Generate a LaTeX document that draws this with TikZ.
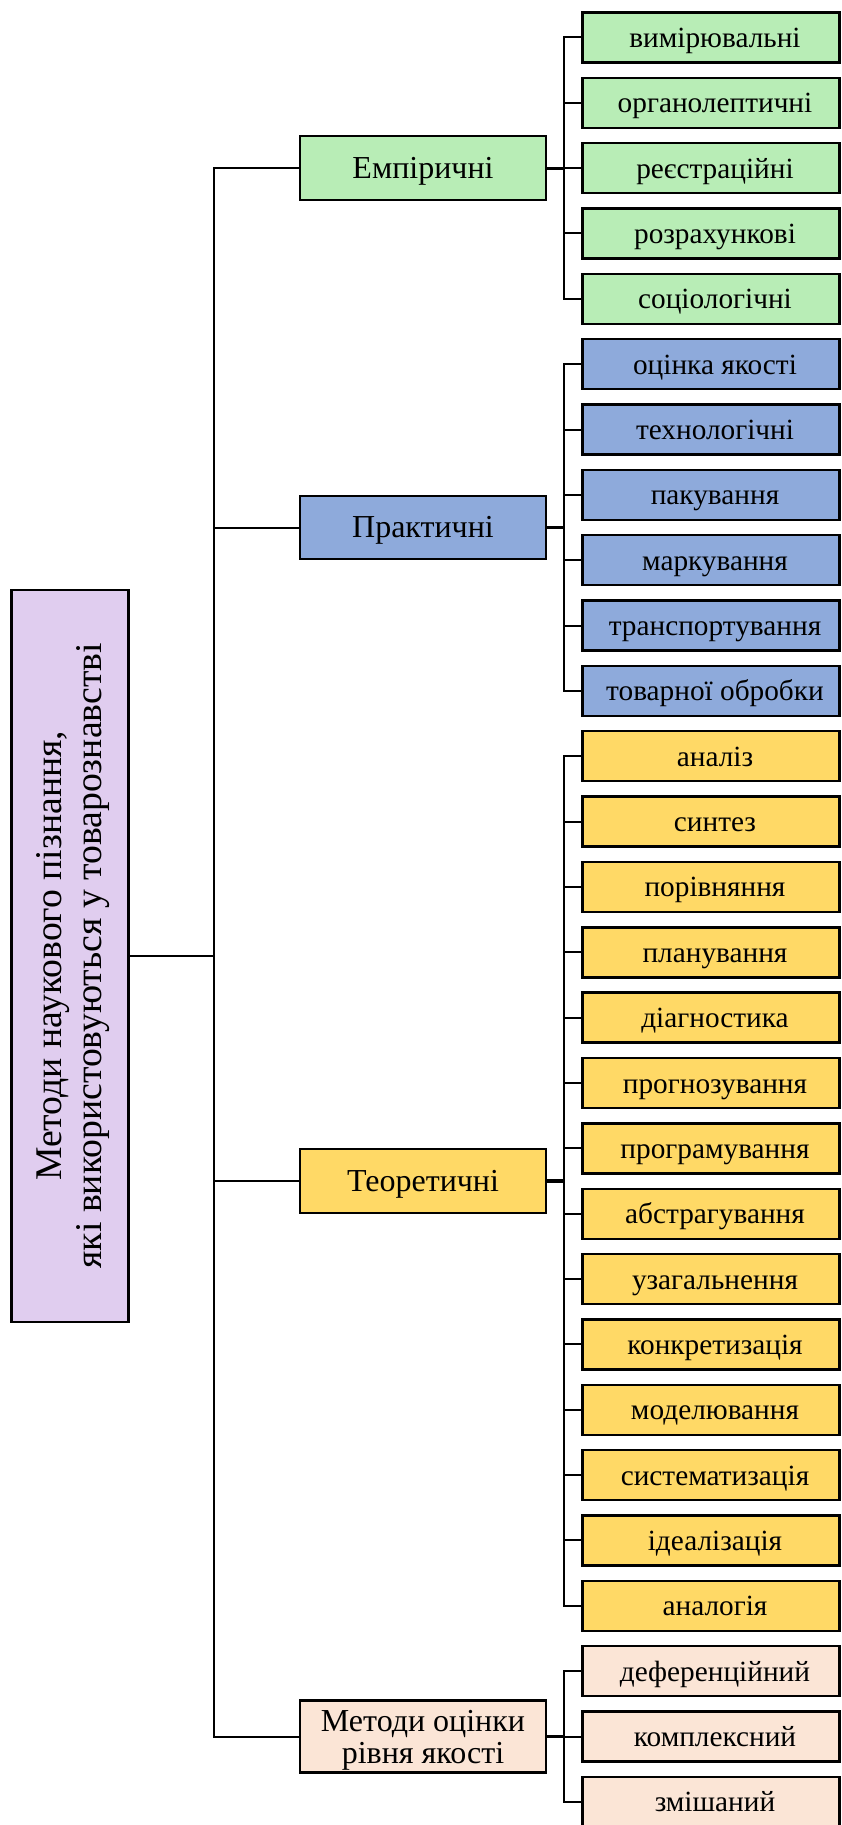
\documentclass[tikz,border=0pt]{standalone}
\usepackage{fontspec}
\setmainfont{Liberation Serif}
\definecolor{empfill}{HTML}{B8EDB6}
\definecolor{prkfill}{HTML}{8EAADB}
\definecolor{teofill}{HTML}{FFD966}
\definecolor{metfill}{HTML}{FBE5D6}
\definecolor{rootfill}{HTML}{E0CDEF}
\begin{document}
\begin{tikzpicture}[x=1pt,y=-1pt,
  box/.style={draw=black, line width=2.4pt, inner sep=0pt, align=center, text=black},
  leaf/.style={box, minimum width=257pt, minimum height=50pt, text height=27pt, text depth=7pt,
    font=\fontsize{29.3}{33}\selectfont},
  cat/.style={box, minimum width=246pt, font=\fontsize{32}{32}\selectfont},
  catlabel/.style={text height=26.5pt, text depth=6.5pt},
  link/.style={line width=2pt},
  stem/.style={line width=3.2pt}]
\useasboundingbox (0,0) rectangle (841,1825);

% root box with vertical caption
\node[box, fill=rootfill, minimum width=117pt, minimum height=732pt] (root) at (70,955.8) {};
\node[rotate=90, align=center, inner sep=0pt, font=\fontsize{37.7}{40}\selectfont] (roottext) at (73,955.8)
  {Методи наукового пізнання,\\які використовуються у товарознавстві};

% method groups
\node[cat, catlabel, fill=empfill, minimum height=64pt] (emp) at (423,168.1) {Емпіричні};
\node[cat, catlabel, fill=prkfill, minimum height=63pt] (prk) at (423,527.5) {Практичні};
\node[cat, catlabel, fill=teofill, minimum height=64pt] (teo) at (423,1181.0) {Теоретичні};
\node[cat, fill=metfill, minimum height=72pt] (met) at (423,1736.5) {};
\node[align=center, inner sep=0pt, font=\fontsize{32}{32}\selectfont, yshift=-4pt] (metlabel) at (met.center)
  {Методи оцінки\\рівня якості};

% individual methods
\foreach \t [count=\i from 0] in {вимірювальні,органолептичні,реєстраційні,розрахункові,соціологічні}
  \node[leaf, fill=empfill] (e\i) at (711,37.4+65.35*\i) {\hspace*{8pt}\t};
\foreach \t [count=\i from 0] in {оцінка якості,технологічні,пакування,маркування,транспортування,товарної обробки}
  \node[leaf, fill=prkfill] (p\i) at (711,37.4+65.35*\i+65.35*5) {\hspace*{8pt}\t};
\foreach \t [count=\i from 0] in {аналіз,синтез,порівняння,планування,діагностика,прогнозування,програмування,абстрагування,узагальнення,конкретизація,моделювання,систематизація,ідеалізація,аналогія}
  \node[leaf, fill=teofill] (t\i) at (711,37.4+65.35*\i+65.35*11) {\hspace*{8pt}\t};
\foreach \t [count=\i from 0] in {деференційний,комплексний,змішаний}
  \node[leaf, fill=metfill] (m\i) at (711,37.4+65.35*\i+65.35*25) {\hspace*{8pt}\t};

% trunk
\coordinate (tr) at (213.5,955.8);
\draw[link] (emp.west) -- (tr |- emp.west) -- (tr |- met.west) -- (met.west);
\draw[link] (tr |- prk.west) -- (prk.west);
\draw[link] (tr |- teo.west) -- (teo.west);
\draw[link] (root.east) -- (tr);

% brackets
\coordinate (bx) at (563.5,0);
\draw[stem] (emp.east) -- (bx |- emp.east);
\draw[stem] (prk.east) -- (bx |- prk.east);
\draw[stem] (teo.east) -- (bx |- teo.east);
\draw[stem] (met.east) -- (bx |- met.east);

\draw[link] (e0.west) -- (bx |- e0.west) -- (bx |- e4.west) -- (e4.west);
\foreach \i in {1,2,3} \draw[link] (bx |- e\i.west) -- (e\i.west);
\draw[link] (p0.west) -- (bx |- p0.west) -- (bx |- p5.west) -- (p5.west);
\foreach \i in {1,...,4} \draw[link] (bx |- p\i.west) -- (p\i.west);
\draw[link] (t0.west) -- (bx |- t0.west) -- (bx |- t13.west) -- (t13.west);
\foreach \i in {1,...,12} \draw[link] (bx |- t\i.west) -- (t\i.west);
\draw[link] (m0.west) -- (bx |- m0.west) -- (bx |- m2.west) -- (m2.west);
\draw[link] (bx |- m1.west) -- (m1.west);
\end{tikzpicture}
\end{document}
